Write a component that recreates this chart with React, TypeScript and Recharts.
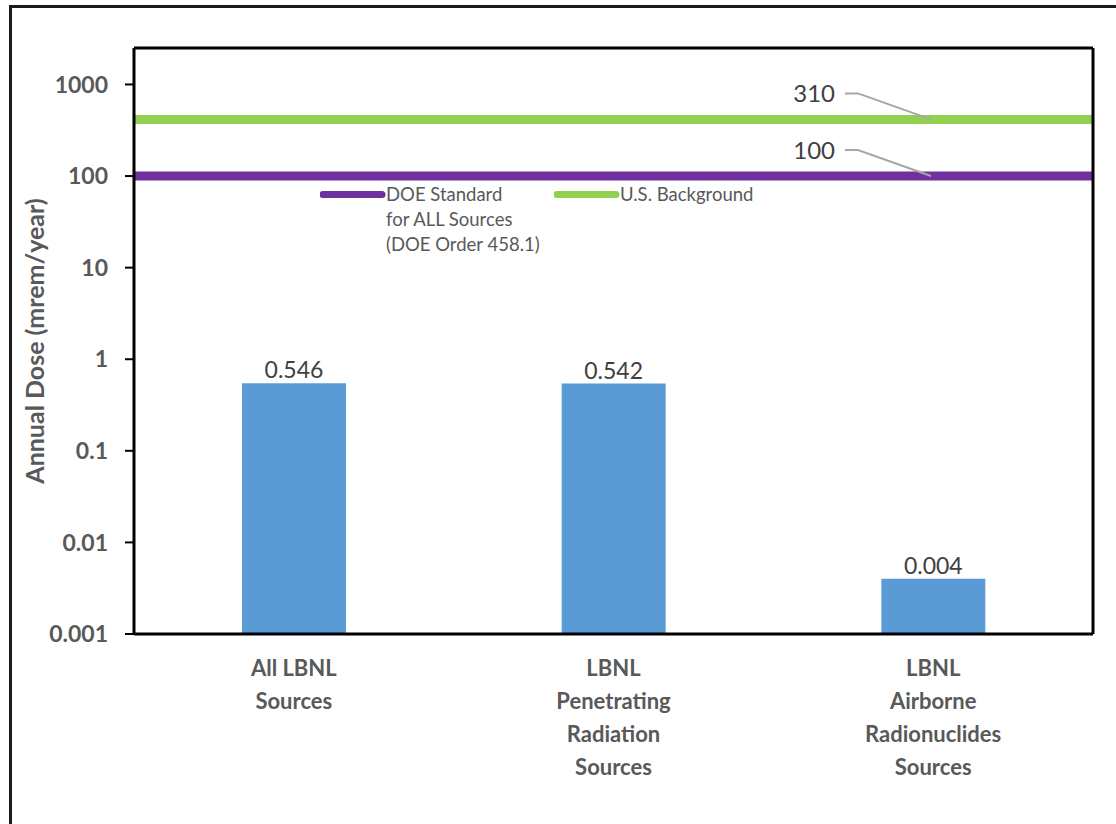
import React from 'react';
import { BarChart, Bar, XAxis, YAxis, ReferenceLine, LabelList, Legend } from 'recharts';

const categories = [
  'All LBNL\nSources',
  'LBNL\nPenetrating\nRadiation\nSources',
  'LBNL\nAirborne\nRadionuclides\nSources',
];
const doseValues = [0.546, 0.542, 0.004];
const doseLabels = ['0.546', '0.542', '0.004'];
const yTicks = [0.001, 0.01, 0.1, 1, 10, 100, 1000];
const yTickLabels = ['0.001', '0.01', '0.1', '1', '10', '100', '1000'];
const refNames = ['DOE Standard\nfor ALL Sources\n(DOE Order 458.1)', 'U.S. Background'];
const refValues = [100, 415];
const refLabels = ['100', '310'];
const refColors = ['#7030A0', '#92D050'];
const yTitle = 'Annual Dose (mrem/year)';

const FONT = 'Lato, "Open Sans", sans-serif';

const data = categories.map((c, i) => ({ name: c, value: doseValues[i], label: doseLabels[i] }));

const XTick = (props: any) => {
  const { x, y, payload } = props;
  const lines = String(payload.value).split('\n');
  return (
    <text x={x} y={y} textAnchor="middle" fill="#595959" fontSize={22} fontWeight="bold" fontFamily={FONT}>
      {lines.map((l, i) => (
        <tspan key={i} x={x} dy={i === 0 ? 42 : 33}>
          {l}
        </tspan>
      ))}
    </text>
  );
};

const makeRefLabel = (text: string) => (props: any) => {
  const { viewBox } = props;
  const x = viewBox.x;
  const y = viewBox.y;
  return (
    <g>
      <text x={x + 701} y={y - 17} textAnchor="end" fontSize={24} fill="#404040" fontFamily={FONT}>
        {text}
      </text>
      <polyline
        points={`${x + 711},${y - 26} ${x + 724},${y - 26} ${x + 797},${y}`}
        fill="none"
        stroke="#A6A6A6"
        strokeWidth={2}
      />
    </g>
  );
};

const YTitle = (props: any) => {
  const { viewBox } = props;
  const cy = viewBox.y + viewBox.height / 2;
  const cx = 34;
  return (
    <text
      x={cx}
      y={cy}
      transform={`rotate(-90 ${cx} ${cy})`}
      textAnchor="middle"
      dominantBaseline="central"
      fill="#595959"
      fontSize={25}
      fontWeight="bold"
      fontFamily={FONT}
    >
      {yTitle}
    </text>
  );
};

const LegendContent = () => (
  <div style={{ display: 'flex', fontFamily: FONT, fontSize: 18.5, color: '#595959', lineHeight: '25px' }}>
    {refNames.map((n, i) => (
      <div key={i} style={{ display: 'flex', width: i === 0 ? 234 : 240, alignItems: 'flex-start' }}>
        <svg width={66} height={25} style={{ flex: 'none' }}>
          <line x1={3} y1={12.5} x2={62} y2={12.5} stroke={refColors[i]} strokeWidth={7} strokeLinecap="round" />
        </svg>
        <div style={{ whiteSpace: 'pre' }}>{n}</div>
      </div>
    ))}
  </div>
);

export default function App() {
  return (
    <div style={{ position: 'absolute', left: 0, top: 0, width: 1116, height: 824, overflow: 'hidden', background: '#fff' }}>
      <div style={{ position: 'absolute', left: 9, top: 5, width: 1200, height: 900, border: '3px solid #1a1a1a' }} />
      <BarChart width={1116} height={824} data={data} margin={{ top: 47, right: 22, left: 0, bottom: 0 }}>
        <XAxis
          dataKey="name"
          height={190}
          tick={<XTick />}
          tickLine={false}
          tickSize={0}
          tickMargin={0}
          interval={0}
          axisLine={{ stroke: '#000', strokeWidth: 3 }}
        />
        <XAxis xAxisId="top" dataKey="name" orientation="top" height={1} tick={false} tickLine={false} axisLine={{ stroke: '#000', strokeWidth: 3 }} />
        <YAxis
          type="number"
          scale="log"
          domain={[0.001, 2500]}
          allowDataOverflow
          ticks={yTicks}
          tickFormatter={(v: number) => yTickLabels[yTicks.indexOf(v)] ?? String(v)}
          width={134}
          tickSize={9}
          tickMargin={17}
          tickLine={{ stroke: '#000', strokeWidth: 2 }}
          axisLine={{ stroke: '#000', strokeWidth: 3 }}
          tick={{ fill: '#595959', fontSize: 23, fontWeight: 'bold', fontFamily: FONT }}
          label={<YTitle />}
        />
        <YAxis
          yAxisId="right"
          orientation="right"
          type="number"
          scale="log"
          domain={[0.001, 2500]}
          allowDataOverflow
          width={1}
          tick={false}
          tickLine={false}
          axisLine={{ stroke: '#000', strokeWidth: 3 }}
        />
        <Legend
          layout="horizontal"
          verticalAlign="middle"
          align="center"
          content={<LegendContent />}
          wrapperStyle={{ left: 320, top: 182, width: 480, height: 80 }}
        />
        <Bar dataKey="value" fill="#5B9BD5" barSize={104} isAnimationActive={false}>
          <LabelList dataKey="label" position="top" offset={5} fill="#404040" fontSize={23} fontFamily={FONT} />
        </Bar>
        {refValues.map((v, i) => (
          <ReferenceLine
            key={i}
            y={v}
            stroke={refColors[i]}
            strokeWidth={9}
            label={makeRefLabel(refLabels[i])}
          />
        ))}
      </BarChart>
    </div>
  );
}
